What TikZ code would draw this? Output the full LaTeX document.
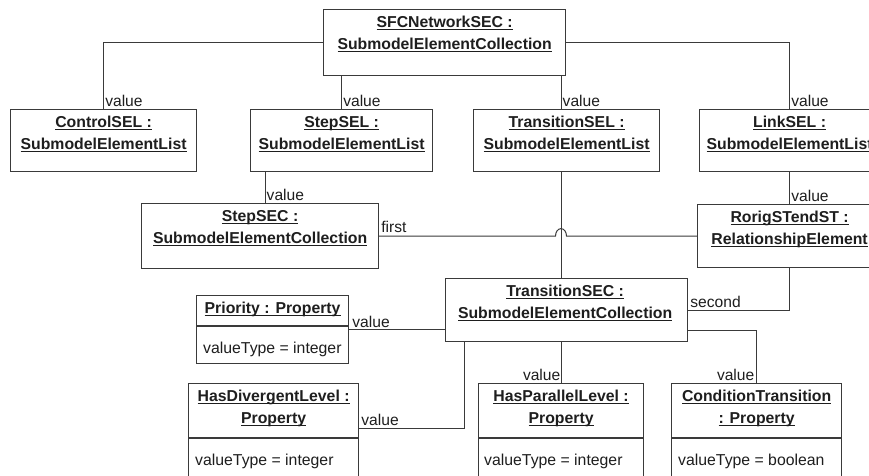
\documentclass[tikz,border=0pt]{standalone}
\usepackage{fontspec}
\setmainfont{Liberation Sans}
\definecolor{ln}{HTML}{3A3A3A}
\definecolor{tx}{HTML}{1E1E1E}
% bold, underlined object name with the rule at a fixed depth
\newcommand{\objname}[1]{\setbox0=\hbox{\bfseries #1}\rlap{\rule[-2.3pt]{\wd0}{0.9pt}}\box0}
\tikzset{
  umlbox/.style={draw=ln, line width=1.2pt, anchor=north west, inner sep=0pt},
  conn/.style={draw=ln, line width=1pt},
  ttl/.style={anchor=base, inner sep=0pt, text=tx, font=\fontsize{15.8}{18}\selectfont},
  attr/.style={anchor=base west, inner sep=0pt, text=tx, font=\fontsize{15.8}{18}\selectfont},
  lbl/.style={inner sep=0pt, text=tx, font=\fontsize{15.6}{18}\selectfont},
}
\begin{document}
\begin{tikzpicture}[x=1pt, y=-1pt]
\clip (0,0) rectangle (869,475);
\fill[white] (0,0) rectangle (869,475);

% ---- object boxes ----
\node[umlbox, minimum width=242pt, minimum height=66pt] (top)      at (323,9)   {};
\node[umlbox, minimum width=186pt, minimum height=62pt] (ctrl)     at (10,109)  {};
\node[umlbox, minimum width=182pt, minimum height=62pt] (stepsel)  at (250,109) {};
\node[umlbox, minimum width=186pt, minimum height=62pt] (transsel) at (473,109) {};
\node[umlbox, minimum width=180pt, minimum height=62pt] (linksel)  at (699,109) {};
\node[umlbox, minimum width=237pt, minimum height=65pt] (stepsec)  at (141,203) {};
\node[umlbox, minimum width=184pt, minimum height=63pt] (rorig)    at (697,204) {};
\node[umlbox, minimum width=242pt, minimum height=63pt] (transsec) at (445,278) {};
\node[umlbox, minimum width=152pt, minimum height=68pt] (priority) at (196,295) {};
\node[umlbox, minimum width=170pt, minimum height=110pt] (hasdiv)  at (188,383) {};
\node[umlbox, minimum width=165pt, minimum height=110pt] (haspar)  at (478,383) {};
\node[umlbox, minimum width=170pt, minimum height=110pt] (cond)    at (671,383) {};

% compartment dividers of the property boxes
\draw[umlbox] ([yshift=-31pt]priority.north west) -- ([yshift=-31pt]priority.north east);
\draw[umlbox] ([yshift=-55pt]hasdiv.north west) -- ([yshift=-55pt]hasdiv.north east);
\draw[umlbox] ([yshift=-55pt]haspar.north west) -- ([yshift=-55pt]haspar.north east);
\draw[umlbox] ([yshift=-55pt]cond.north west) -- ([yshift=-55pt]cond.north east);

% ---- box titles ----
\node[ttl] (t1a) at ([yshift=-18.7pt]top.north) {\objname{SFCNetworkSEC :}};
\node[ttl] (t1b) at ([yshift=-40.3pt]top.north) {\objname{SubmodelElementCollection}};
\node[ttl] (t2a) at ([yshift=-18.7pt]ctrl.north) {\objname{ControlSEL :}};
\node[ttl] (t2b) at ([yshift=-40.3pt]ctrl.north) {\objname{SubmodelElementList}};
\node[ttl] (t3a) at ([yshift=-18.7pt]stepsel.north) {\objname{StepSEL :}};
\node[ttl] (t3b) at ([yshift=-40.3pt]stepsel.north) {\objname{SubmodelElementList}};
\node[ttl] (t4a) at ([yshift=-18.7pt]transsel.north) {\objname{TransitionSEL :}};
\node[ttl] (t4b) at ([yshift=-40.3pt]transsel.north) {\objname{SubmodelElementList}};
\node[ttl] (t5a) at ([yshift=-18.7pt]linksel.north) {\objname{LinkSEL :}};
\node[ttl] (t5b) at ([yshift=-40.3pt]linksel.north) {\objname{SubmodelElementList}};
\node[ttl] (t6a) at ([yshift=-18.7pt]stepsec.north) {\objname{StepSEC :}};
\node[ttl] (t6b) at ([yshift=-40.3pt]stepsec.north) {\objname{SubmodelElementCollection}};
\node[ttl] (t7a) at ([yshift=-18.7pt]rorig.north) {\objname{RorigSTendST :}};
\node[ttl] (t7b) at ([yshift=-40.3pt]rorig.north) {\objname{RelationshipElement}};
\node[ttl] (t8a) at ([xshift=-1.5pt,yshift=-18.7pt]transsec.north) {\objname{TransitionSEC :}};
\node[ttl] (t8b) at ([xshift=-1.5pt,yshift=-40.3pt]transsec.north) {\objname{SubmodelElementCollection}};
\node[ttl] (t9)  at ([yshift=-18.3pt]priority.north) {\objname{Priority : Property}};
\node[ttl] (t10a) at ([yshift=-18.7pt]hasdiv.north) {\objname{HasDivergentLevel :}};
\node[ttl] (t10b) at ([yshift=-40.3pt]hasdiv.north) {\objname{Property}};
\node[ttl] (t11a) at ([yshift=-18.7pt]haspar.north) {\objname{HasParallelLevel :}};
\node[ttl] (t11b) at ([yshift=-40.3pt]haspar.north) {\objname{Property}};
\node[ttl] (t12a) at ([yshift=-18.7pt]cond.north) {\objname{ConditionTransition}};
\node[ttl] (t12b) at ([yshift=-40.3pt]cond.north) {\objname{: Property}};

% ---- attributes ----
\node[attr] (a9)  at ([xshift=7pt,yshift=-58.3pt]priority.north west) {valueType = integer};
\node[attr] (a10) at ([xshift=7pt,yshift=-82pt]hasdiv.north west) {valueType = integer};
\node[attr] (a11) at ([xshift=6pt,yshift=-82pt]haspar.north west) {valueType = integer};
\node[attr] (a12) at ([xshift=7pt,yshift=-82pt]cond.north west) {valueType = boolean};

% guide coordinates for connector runs
\coordinate (tx) at (561,0);
\coordinate (sx) at (265,0);
\coordinate (dv) at (464,428);
\coordinate (cv) at (756,330);

% ---- connectors ----
\draw[conn] (top.west) -| (ctrl.north);
\node[lbl, anchor=base west] at ([xshift=1.5pt,yshift=2.5pt]ctrl.north) {value};

\draw[conn] (top.south -| stepsel.north) -- (stepsel.north);
\node[lbl, anchor=base west] at ([xshift=1.5pt,yshift=2.5pt]stepsel.north) {value};

\draw[conn] (top.south -| tx) -- (transsel.north -| tx);
\node[lbl, anchor=base west] at ([xshift=1.5pt,yshift=2.5pt]transsel.north -| tx) {value};

\draw[conn] (top.east) -| (linksel.north);
\node[lbl, anchor=base west] at ([xshift=1.5pt,yshift=2.5pt]linksel.north) {value};

\draw[conn] (stepsel.south -| sx) -- (stepsec.north -| sx);
\node[lbl, anchor=base west] at ([xshift=1.5pt,yshift=2.5pt]stepsec.north -| sx) {value};

\draw[conn] (linksel.south) -- (rorig.north);
\node[lbl, anchor=base west] at ([xshift=1.5pt,yshift=2.5pt]rorig.north) {value};

\draw[conn] (transsel.south -| tx) -- (transsec.north -| tx);

% "first" hops over the TransitionSEL line
\draw[conn] (stepsec.east) -- ([xshift=-5.5pt]stepsec.east -| tx)
  arc[start angle=180, end angle=0, x radius=5.5pt, y radius=7.5pt] -- (rorig.west);
\node[lbl, anchor=base west] at ([xshift=2pt,yshift=3.5pt]stepsec.east) {first};

\draw[conn] (rorig.south) |- (transsec.east);
\node[lbl, anchor=base west] at ([xshift=2pt,yshift=3pt]transsec.east) {second};

\draw[conn] (priority.east) -- (priority.east -| transsec.west);
\node[lbl, anchor=base west] at ([xshift=3pt,yshift=2.5pt]priority.east) {value};

\draw[conn] (transsec.south -| dv) |- (hasdiv.east |- dv);
\node[lbl, anchor=base west] at ([xshift=2pt,yshift=2.5pt]hasdiv.east |- dv) {value};

\draw[conn] (transsec.south -| tx) -- (haspar.north -| tx);
\node[lbl, anchor=base east] at ([xshift=-0.5pt,yshift=2.5pt]haspar.north -| tx) {value};

\draw[conn] (transsec.east |- cv) -| (cond.north -| cv);
\node[lbl, anchor=base east] at ([xshift=-1.5pt,yshift=2.5pt]cond.north -| cv) {value};
\end{tikzpicture}
\end{document}
